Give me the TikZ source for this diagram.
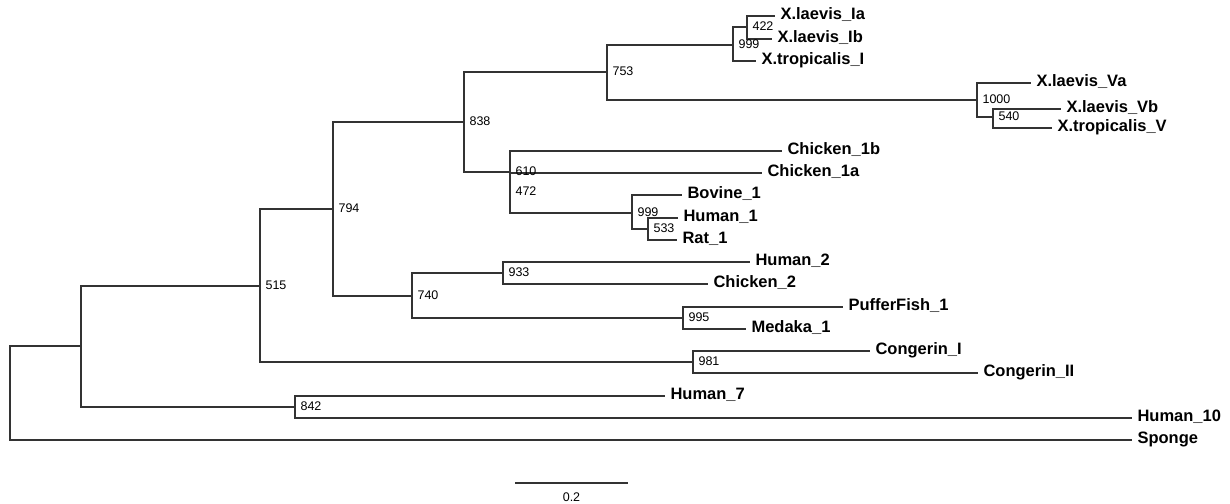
\documentclass[tikz,border=0pt]{standalone}
\usepackage{fontspec}
\setmainfont{Liberation Sans}

\begin{document}
\begin{tikzpicture}[x=1pt,y=-1pt,line width=1.1pt,
  leaf/.style={anchor=west,inner xsep=5pt,inner ysep=0pt,text height=0.72em,text depth=0pt,font=\fontsize{16.5}{18}\selectfont\bfseries},
  boot/.style={anchor=west,inner sep=0pt,xshift=5pt,text height=0.72em,text depth=0pt,font=\fontsize{12.5}{14}\selectfont},
  branch/.style={draw=black!80}]
\useasboundingbox (0,0) rectangle (1230,503);

% inner nodes
\coordinate (root) at (10,393);
\coordinate (nA) at (81,346);
\coordinate (n515) at (260,286);
\coordinate (n794) at (333,209);
\coordinate (n838) at (464,122);
\coordinate (n753) at (607,72);
\coordinate (n999x) at (733,45);
\coordinate (n422) at (747,27);
\coordinate (n1000) at (977,100);
\coordinate (n540) at (993,117);
\coordinate (n610) at (510,172);
\coordinate (n472) at (510,192);
\coordinate (n999b) at (632,213);
\coordinate (n533) at (648,229);
\coordinate (n740) at (412,296);
\coordinate (n933) at (503,273);
\coordinate (n995) at (683,318);
\coordinate (n981) at (693,362);
\coordinate (n842) at (295,407);

% leaves
\node[leaf] (xlIa) at (775,16) {X.laevis\_Ia};
\node[leaf] (xlIb) at (772,39) {X.laevis\_Ib};
\node[leaf] (xtI) at (756,61) {X.tropicalis\_I};
\node[leaf] (xlVa) at (1031,83) {X.laevis\_Va};
\node[leaf] (xlVb) at (1061,109) {X.laevis\_Vb};
\node[leaf] (xtV) at (1052,128) {X.tropicalis\_V};
\node[leaf] (chk1b) at (782,151) {Chicken\_1b};
\node[leaf] (chk1a) at (762,173) {Chicken\_1a};
\node[leaf] (bov1) at (682,195) {Bovine\_1};
\node[leaf] (hum1) at (678,218) {Human\_1};
\node[leaf] (rat1) at (677,240) {Rat\_1};
\node[leaf] (hum2) at (750,262) {Human\_2};
\node[leaf] (chk2) at (708,284) {Chicken\_2};
\node[leaf] (puf1) at (843,307) {PufferFish\_1};
\node[leaf] (med1) at (746,329) {Medaka\_1};
\node[leaf] (conI) at (870,351) {Congerin\_I};
\node[leaf] (conII) at (978,373) {Congerin\_II};
\node[leaf] (hum7) at (665,396) {Human\_7};
\node[leaf] (hum10) at (1132,418) {Human\_10};
\node[leaf] (spo) at (1132,440) {Sponge};

% branches
\foreach \p/\c in {root/nA,nA/n515,nA/n842,n515/n794,n515/n981,n794/n838,n794/n740,
  n838/n753,n838/n610,n753/n999x,n753/n1000,n999x/n422,n1000/n540,n610/n472,
  n472/n999b,n999b/n533,n740/n933,n740/n995}
  \draw[branch] (\p) |- (\c);
\foreach \p/\c in {root/spo,n842/hum7,n842/hum10,n981/conI,n981/conII,n995/puf1,n995/med1,
  n933/hum2,n933/chk2,n533/hum1,n533/rat1,n999b/bov1,n610/chk1b,n610/chk1a,
  n540/xlVb,n540/xtV,n1000/xlVa,n999x/xtI,n422/xlIa,n422/xlIb}
  \draw[branch] (\p) |- (\c.west);

% bootstrap values
\node[boot] at (n515) {515};
\node[boot] at (n794) {794};
\node[boot] at (n838) {838};
\node[boot] at (n753) {753};
\node[boot] at (n999x) {999};
\node[boot] at (n422) {422};
\node[boot] at (n1000) {1000};
\node[boot] at (n540) {540};
\node[boot] at (n610) {610};
\node[boot] at (n472) {472};
\node[boot] at (n999b) {999};
\node[boot] at (n533) {533};
\node[boot] at (n740) {740};
\node[boot] at (n933) {933};
\node[boot] at (n995) {995};
\node[boot] at (n981) {981};
\node[boot] at (n842) {842};

% scale bar
\coordinate (barL) at (515,483);
\coordinate (barR) at (628,483);
\draw[branch] (barL) -- (barR) node[midway,below=9pt,inner sep=0pt,font=\fontsize{12.5}{14}\selectfont] {0.2};
\end{tikzpicture}
\end{document}
